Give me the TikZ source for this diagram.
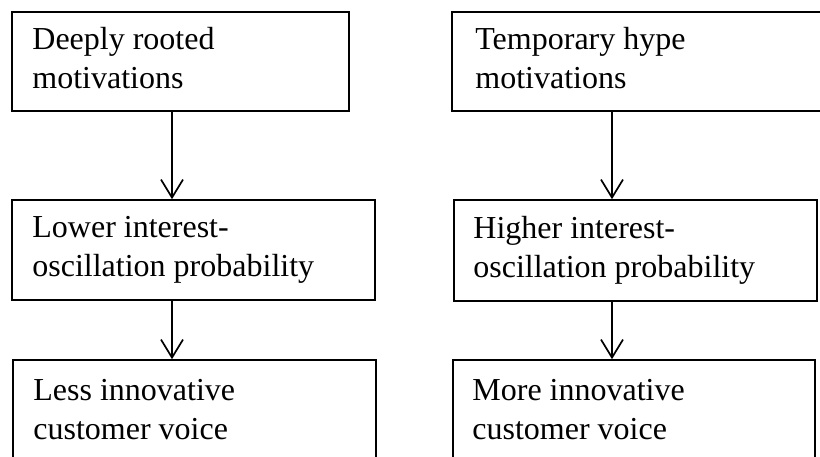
\documentclass[tikz,border=0pt]{standalone}
\usepackage{fontspec}
\setmainfont{Liberation Serif}
\usetikzlibrary{arrows.meta,calc}

\tikzset{
  box/.style={draw=black, line width=1.6pt, rectangle, inner sep=0pt},
  label/.style={inner sep=0pt, anchor=base west,
    font=\fontsize{32}{39}\selectfont},
  flow/.style={draw=black, line width=1.7pt,
    -{Straight Barb[length=18pt,width=22pt,line width=1.7pt]}},
}

% two-line, left-aligned caption whose baseline is that of its first line
\newcommand{\twolines}[2]{\begin{tabular}[t]{@{}l@{}}#1\\#2\end{tabular}}

\begin{document}
\begin{tikzpicture}[x=1pt,y=1pt]
  \useasboundingbox (0,0) rectangle (820,457);
  \clip (0,0) rectangle (820,457);

  % left column
  \node[box, minimum width=337pt, minimum height=99pt] (dr) at (180.5,395.5) {};
  \node[box, minimum width=363pt, minimum height=100pt] (lo) at (193.5,207) {};
  \node[box, minimum width=363pt, minimum height=140pt] (le) at (194.5,27) {};

  % right column
  \node[box, minimum width=398pt, minimum height=99pt] (th) at (651,395.5) {};
  \node[box, minimum width=363pt, minimum height=101pt] (hi) at (635.5,206.5) {};
  \node[box, minimum width=362pt, minimum height=140pt] (mo) at (634,27) {};

  % captions
  \node[label] (tdr) at ($(dr.north west)+(21,-38)$) {\twolines{Deeply rooted}{motivations}};
  \node[label] (tlo) at ($(lo.north west)+(21,-38)$) {\twolines{Lower interest-}{oscillation probability}};
  \node[label] (tle) at ($(le.north west)+(21,-41)$) {\twolines{Less innovative}{customer voice}};
  \node[label] (tth) at ($(th.north west)+(24,-38)$) {\twolines{Temporary hype}{motivations}};
  \node[label] (thi) at ($(hi.north west)+(20,-39)$) {\twolines{Higher interest-}{oscillation probability}};
  \node[label] (tmo) at ($(mo.north west)+(20,-41)$) {\twolines{More innovative}{customer voice}};

  % arrow lanes
  \coordinate (laneL) at (172,0);
  \coordinate (laneR) at (612,0);

  \draw[flow] (dr.south -| laneL) -- (lo.north -| laneL);
  \draw[flow] (lo.south -| laneL) -- (le.north -| laneL);
  \draw[flow] (th.south -| laneR) -- (hi.north -| laneR);
  \draw[flow] (hi.south -| laneR) -- (mo.north -| laneR);
\end{tikzpicture}
\end{document}
